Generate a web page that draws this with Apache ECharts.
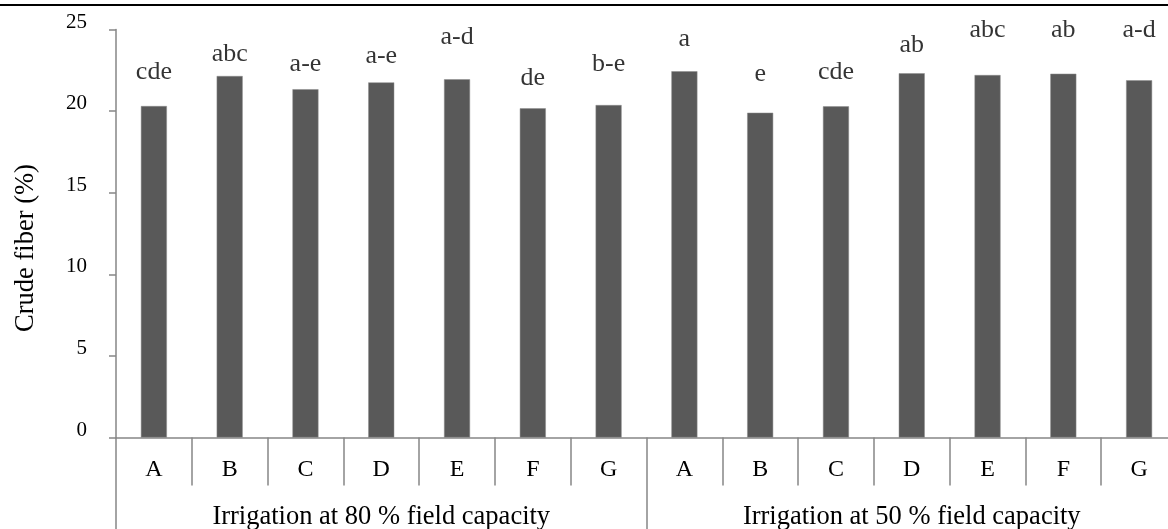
<!DOCTYPE html>
<html>
<head>
<meta charset="utf-8">
<script src="https://cdn.jsdelivr.net/npm/echarts@6/dist/echarts.min.js"></script>
<style>html,body{margin:0;padding:0;background:#fff}#c{width:1168px;height:529px}</style>
</head>
<body>
<div id="c"></div>
<script>
// ---- data ----
var treatments = ['A','B','C','D','E','F','G','A','B','C','D','E','F','G'];
var groups = ['Irrigation at 80 % field capacity', 'Irrigation at 50 % field capacity'];
var crudeFiber = [20.31, 22.15, 21.34, 21.76, 21.95, 20.17, 20.37,
                  22.44, 19.90, 20.29, 22.32, 22.21, 22.29, 21.89];
var letters = ['cde','abc','a-e','a-e','a-d','de','b-e',
               'a','e','cde','ab','abc','ab','a-d'];
var letterY = [22.38, 23.50, 22.85, 23.36, 24.52, 22.03, 22.89,
               24.42, 22.28, 22.38, 24.07, 24.97, 24.97, 24.97];
var yTicks = [0, 5, 10, 15, 20, 25];

var FONT = '"Liberation Serif", "Times New Roman", serif';
var AX = '#868686';
var chart = echarts.init(document.getElementById('c'), null, {renderer: 'canvas'});
chart.setOption({
  animation: false,
  backgroundColor: '#fff',
  textStyle: {fontFamily: FONT},
  grid: {left: 116, right: -9, top: 29.5, bottom: 91.5, containLabel: false, outerBoundsMode: 'none'},
  xAxis: [{
    type: 'category', data: treatments, position: 'bottom',
    axisLine: {show: true, lineStyle: {color: AX, width: 1.5}},
    axisTick: {show: true, interval: 0, length: 48, lineStyle: {color: AX, width: 1.5}},
    axisLabel: {interval: 0, margin: 20.5, fontFamily: FONT, fontSize: 24, color: '#000'}
  }, {
    type: 'category', data: groups, position: 'bottom',
    axisLine: {show: false},
    axisTick: {show: true, interval: 0, length: 92, lineStyle: {color: AX, width: 1.5}},
    axisLabel: {interval: 0, margin: 66, fontFamily: FONT, fontSize: 26.5, color: '#000'}
  }],
  yAxis: {
    type: 'value', min: 0, max: 25, interval: 5,
    name: 'Crude fiber (%)', nameLocation: 'middle', nameGap: 76,
    nameTextStyle: {fontFamily: FONT, fontSize: 26.5, color: '#000', padding: [0, 29, 0, 0]},
    axisLine: {show: true, lineStyle: {color: AX, width: 1.5}},
    axisTick: {show: true, length: 7, lineStyle: {color: AX, width: 1.5}},
    splitLine: {show: false},
    axisLabel: {margin: 29, fontFamily: FONT, fontSize: 21, color: '#000',
      verticalAlign: 'bottom', lineHeight: 15,
      formatter: function (v) { return yTicks.indexOf(v) >= 0 ? String(v) : ''; }}
  },
  series: [{
    type: 'bar', xAxisIndex: 0, data: crudeFiber, barWidth: 26,
    itemStyle: {color: '#595959', borderColor: '#8c8c8c', borderWidth: 0.5}
  }, {
    type: 'scatter', xAxisIndex: 0, clip: false, symbol: 'circle', symbolSize: 1,
    itemStyle: {color: 'rgba(0,0,0,0)'},
    data: letterY,
    label: {show: true, position: 'inside', formatter: function (p) { return letters[p.dataIndex]; },
      fontFamily: FONT, fontSize: 26, color: '#000'}
  }],
  graphic: [{type: 'rect', left: 0, top: 4, shape: {width: 1168, height: 2}, style: {fill: '#000'}}]
});
</script>
</body>
</html>
